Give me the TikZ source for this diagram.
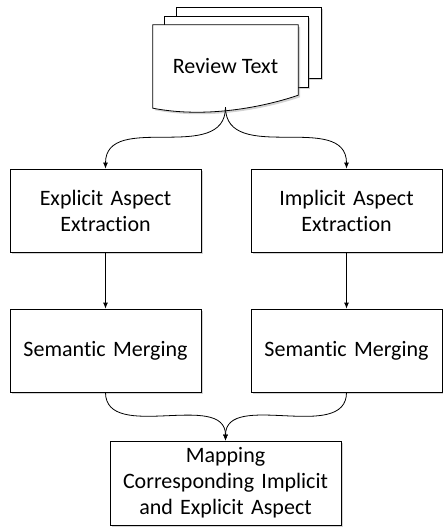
\documentclass[tikz,border=0pt]{standalone}
\usepackage{fontspec}
\setmainfont[Ligatures={NoCommon}]{Carlito}
\usepackage{tikz}
\usetikzlibrary{arrows.meta, shadows}
\tikzstyle{docpage} =
[draw=black, line width=0.8pt, fill=white,
drop shadow={shadow xshift=2pt, shadow yshift=-2pt, opacity=0.35}]
\tikzstyle{docnode} =
[rectangle, minimum width = 145pt, minimum height = 84pt, text centered,
inner sep=0pt]
\tikzstyle{process} =
[rectangle, minimum width = 191pt, minimum height = 83pt, text centered,
text width = 180pt, draw=black, line width=0.8pt, fill=white,
drop shadow={shadow xshift=2pt, shadow yshift=-2pt, opacity=0.35}]
\tikzstyle{mapbox} =
[rectangle, minimum width = 231pt, minimum height = 84pt, text centered,
text width = 222pt, inner sep=0pt, draw=black, line width=0.8pt, fill=white,
drop shadow={shadow xshift=2pt, shadow yshift=-2pt, opacity=0.35}]
\tikzstyle{line} = [draw, line width=0.8pt, -{Latex[length=6pt, width=5pt]}]
\begin{document}
\begin{tikzpicture}[x=1pt, y=1pt, node distance = 140pt, auto,
  font=\fontsize{22}{26}\selectfont]
  \useasboundingbox (0,0) rectangle (442,-529);
  % document stack
  \path [docpage] (176,-7) rectangle (321,-78);
  \path [docpage] (164,-16) rectangle (308,-87);
  \node [docnode] (review) at (225.5,-67) {};
  \path [docpage] (review.north west) -- (review.north east)
    -- ([yshift=14pt]review.south east)
    .. controls ([xshift=72.5pt,yshift=14pt]review.south)
    and ([xshift=0pt,yshift=-13pt]review.south)
    .. ([yshift=1pt]review.south west) -- cycle;
  \node at ([yshift=1pt]review.center) {Review Text};
  \coordinate (docbot) at ([yshift=2pt]review.south);
  % 1st level nodes
  \coordinate [below of=review, node distance=143.5pt] (vn);
  \node [process, left of=vn, node distance=120pt] (explicit)
   {Explicit Aspect\\Extraction};
  \node [process, right of=vn, node distance=121pt] (implicit)
   {Implicit Aspect\\Extraction};
  % 1st level edges
  \path [line] (docbot) to[out=-90, in=90, looseness=1.1] (explicit.north);
  \path [line] (docbot) to[out=-90, in=90, looseness=1.1] (implicit.north);
  %
  % 2nd level nodes
  \node [process, below of=explicit] (semexp) {Semantic Merging};
  \node [process, below of=implicit] (semimp) {Semantic Merging};
  \node [mapbox, below of=vn, node distance=272.5pt] (mapping)
   {Mapping\\Corresponding Implicit\\and Explicit Aspect};
  % 2nd level edges
  \path [line] (explicit) -- (semexp);
  \path [line] (implicit) -- (semimp);
  \path [line] (semexp.south) to[out=-90, in=90] (mapping.north);
  \path [line] (semimp.south) to[out=-90, in=90] (mapping.north);
\end{tikzpicture}
\end{document}
